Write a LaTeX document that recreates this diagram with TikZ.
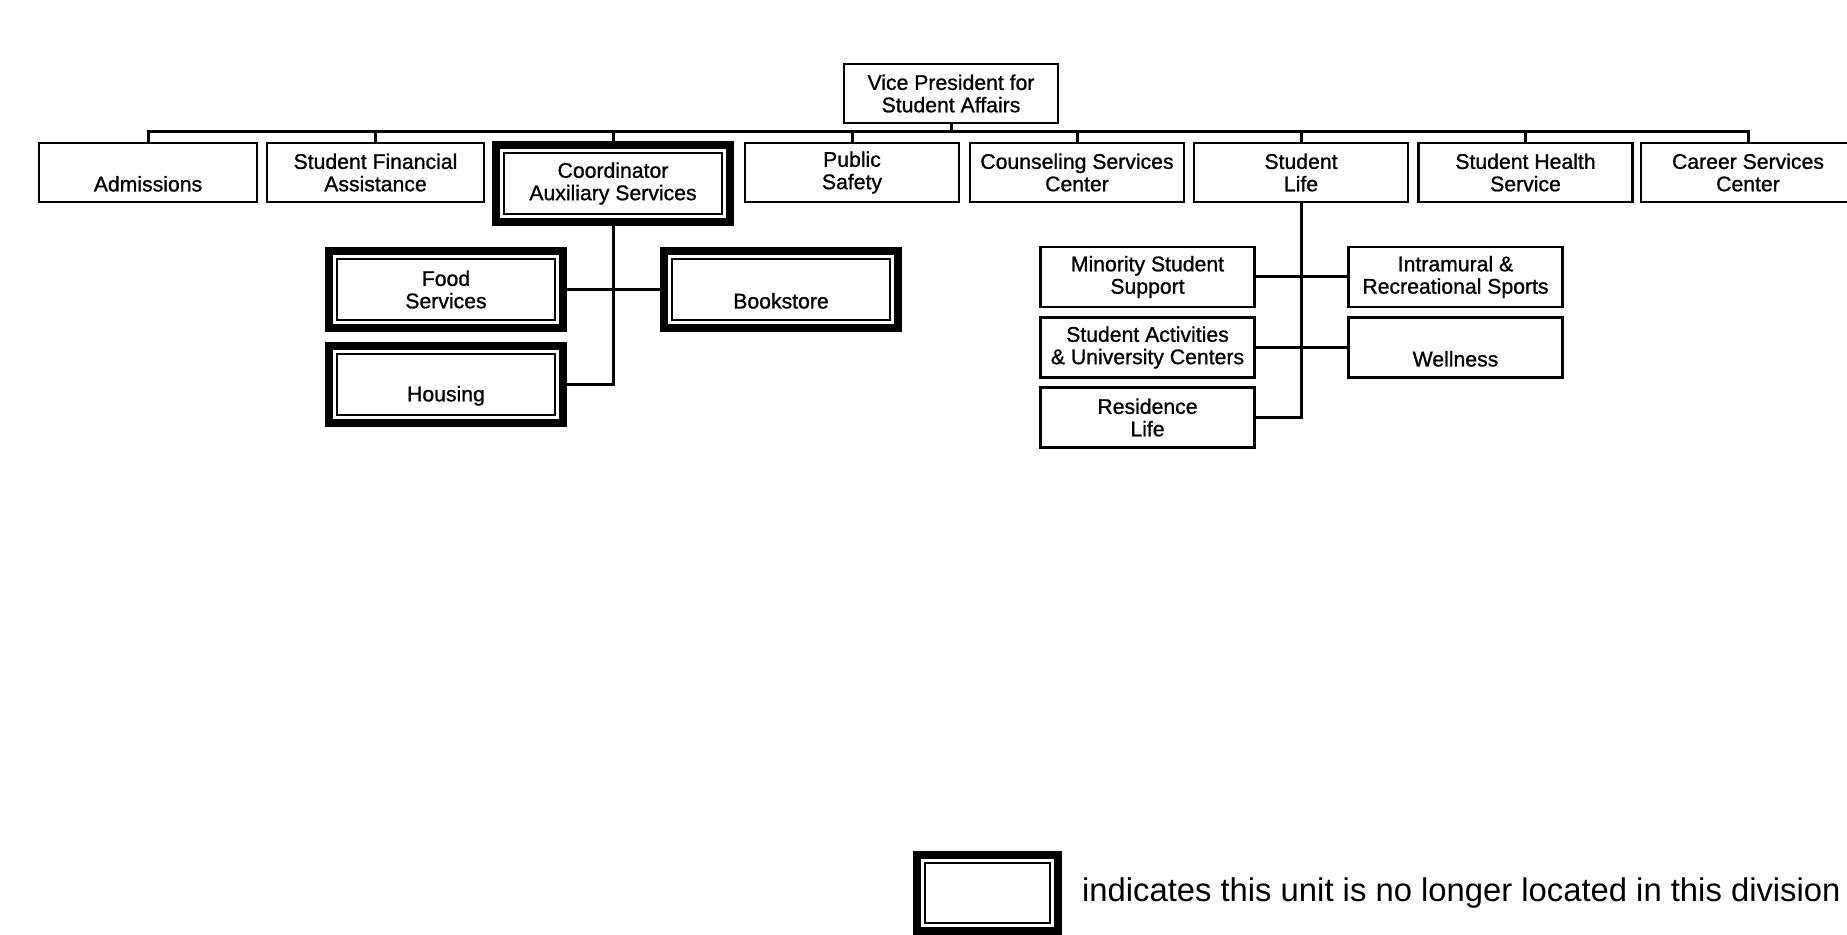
\documentclass[tikz,border=0pt]{standalone}
\usepackage{fontspec}
\setmainfont{Liberation Sans}
\newfontfamily\unitfont[FakeBold=1]{Liberation Sans}

\begin{document}
\begin{tikzpicture}[x=0.5pt,y=-0.5pt,
    unit/.style={draw,line width=1.2pt,align=center,inner sep=0pt,minimum width=107pt,minimum height=29.5pt,font=\unitfont\fontsize{10.6}{11.2}\selectfont},
    moved/.style={unit,line width=4pt,minimum width=117pt,minimum height=38.5pt,
      path picture={\draw[line width=1.2pt] ([shift={(4pt,4pt)}]path picture bounding box.south west) rectangle ([shift={(-4pt,-4pt)}]path picture bounding box.north east);}},
    link/.style={line width=1.5pt}]
      \useasboundingbox (0,0) rectangle (1847,935);
      \node[unit] (vp) at (951,93.5) {Vice President for\\Student Affairs};
      \node[unit,minimum width=109pt] (adm) at (148,172.5) {\strut\\Admissions};
      \node[unit,minimum width=108.5pt] (sfa) at (375.5,172.5) {Student Financial\\Assistance};
      \node[moved] (aux) at (613,183.5) {Coordinator\\Auxiliary Services};
      \node[unit] (ps) at (852,172.5) {Public\\Safety};
      \node[unit] (csc) at (1077,172.5) {Counseling Services\\Center};
      \node[unit] (sl) at (1301,172.5) {Student\\Life};
      \node[unit] (shs) at (1525.5,172.5) {Student Health\\Service};
      \node[unit] (car) at (1748,172.5) {Career Services\\Center};
      \coordinate (bus) at (951,132);
      \draw[link] (vp.south) -- (bus);
      \draw[link] (adm.north) -- (adm.north |- bus) -- (car.north |- bus) -- (car.north);
      \foreach \n in {sfa,aux,ps,csc,sl,shs}
        \draw[link] (\n.north) -- (\n.north |- bus);
      \node[moved] (food) at (446,289.5) {Food\\Services};
      \node[moved] (book) at (781,289.5) {\strut\\Bookstore};
      \node[moved] (hous) at (446,384.5) {\strut\\Housing};
      \draw[link] (aux.south) -- (aux.south |- hous.east) -- (hous.east);
      \draw[link] (food.east) -- (book.west);
      \node[unit,minimum height=30pt] (min) at (1147.5,277) {Minority Student\\Support};
      \node[unit,minimum height=30pt] (act) at (1147.5,347.5) {Student Activities\\\& University Centers};
      \node[unit,minimum height=30pt] (res) at (1147.5,417.5) {Residence\\Life};
      \node[unit,minimum height=30pt] (intra) at (1455.5,277) {Intramural \&\\Recreational Sports};
      \node[unit,minimum height=30pt] (well) at (1455.5,347.5) {\strut\\Wellness};
      \draw[link] (sl.south) -- (sl.south |- res.east) -- (res.east);
      \draw[link] (min.east) -- (intra.west);
      \draw[link] (act.east) -- (well.west);
      \node[moved,minimum width=70.5pt,minimum height=38pt] (key) at (987.5,893) {};
      \node[anchor=base west,font=\fontsize{16.4}{18}\selectfont] (keytext) at (1075,901) {indicates this unit is no longer located in this division};
    \end{tikzpicture}
\end{document}
